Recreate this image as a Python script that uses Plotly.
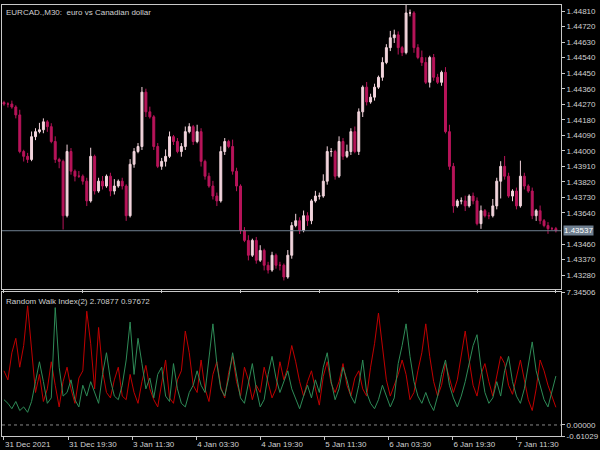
import plotly.graph_objects as go
from plotly.subplots import make_subplots

# closes of EURCAD M30 (sampled), first open
first_open = 1.44280
closes = [1.44271,1.44271,1.44254,1.44208,1.43996,1.43968,1.43950,1.44082,1.44111,1.44122,1.44168,1.44140,1.44054,1.43950,1.43939,1.43624,1.43996,1.43882,1.43853,1.43853,1.43824,1.43710,1.43968,1.43767,1.43824,1.43796,1.43853,1.43767,1.43796,1.43824,1.43796,1.43624,1.43922,1.43996,1.44025,1.44340,1.44226,1.44197,1.44025,1.43910,1.43939,1.43968,1.44082,1.44054,1.43996,1.44025,1.44111,1.44140,1.44054,1.44111,1.43939,1.43853,1.43796,1.43738,1.43710,1.43996,1.44054,1.44025,1.43882,1.43796,1.43538,1.43481,1.43395,1.43481,1.43366,1.43423,1.43337,1.43309,1.43395,1.43337,1.43337,1.43269,1.43395,1.43567,1.43595,1.43538,1.43624,1.43595,1.43710,1.43738,1.43738,1.43824,1.43996,1.43996,1.43853,1.44054,1.43968,1.43996,1.44111,1.43996,1.44226,1.44369,1.44283,1.44311,1.44369,1.44426,1.44512,1.44598,1.44655,1.44672,1.44598,1.44569,1.44799,1.44799,1.44598,1.44541,1.44512,1.44397,1.44541,1.44426,1.44397,1.44455,1.44111,1.43910,1.43681,1.43710,1.43710,1.43681,1.43738,1.43710,1.43578,1.43653,1.43624,1.43624,1.43681,1.43824,1.43910,1.43853,1.43738,1.43767,1.43681,1.43853,1.43796,1.43767,1.43624,1.43653,1.43595,1.43567,1.43549,1.43549,1.43537]
# extra wick length above / below body, in pips
wick_up = [1,1,2,1,3,1,2,3,2,4,2,1,2,3,1,1,4,2,1,3,1,2,5,1,2,3,1,2,4,1,2,1,3,2,2,3,2,3,1,2,2,4,3,1,2,2,3,2,1,4,2,1,2,3,2,3,2,1,4,2,1,2,3,1,2,3,1,2,2,1,2,1,3,2,4,2,3,2,1,3,2,4,3,2,1,3,2,4,2,3,2,1,3,2,2,1,3,2,4,3,2,1,6,2,1,2,4,3,1,2,2,1,3,4,2,1,2,3,1,2,2,3,1,2,4,2,3,6,2,1,2,9,2,1,2,1,3,1,2,1,1]
wick_dn = [1,2,1,2,1,3,2,1,2,1,2,3,1,2,4,8,1,2,3,1,2,3,1,2,1,2,1,3,2,1,2,3,1,2,1,2,3,1,2,1,2,3,1,2,1,3,2,1,2,1,3,2,1,2,3,1,2,1,2,3,2,1,3,1,2,1,3,2,1,2,3,2,1,2,1,2,1,3,2,1,2,1,2,3,2,1,2,1,2,1,2,3,2,1,2,1,2,1,2,3,4,2,1,2,3,1,2,1,3,2,1,2,1,2,4,1,2,3,1,2,1,3,1,2,1,2,10,2,1,3,2,1,2,1,2,3,2,1,3,1,1]

rwi_up = [3.0,2.5,4.0,4.8,3.2,4.4,6.6,4.0,1.8,2.8,1.3,2.0,3.5,2.2,1.0,2.4,3.2,2.0,1.2,2.6,3.0,6.3,4.5,2.0,5.4,3.0,1.8,1.5,2.5,3.2,1.6,1.4,2.8,1.8,1.2,2.4,3.3,2.0,1.4,1.0,2.2,3.6,1.5,1.2,2.5,3.0,5.2,4.0,2.2,1.8,3.6,2.0,1.3,2.8,3.5,2.1,1.5,2.9,3.8,2.4,1.6,3.2,2.5,1.4,2.2,1.8,3.2,2.4,1.5,2.0,3.5,2.5,3.2,4.4,3.5,2.4,1.6,2.4,3.0,2.0,1.1,2.7,3.5,2.3,1.8,2.4,3.4,2.2,1.6,2.6,3.0,2.0,1.6,3.2,4.5,6.2,4.2,2.5,1.6,2.2,2.8,3.6,2.8,1.4,1.8,3.0,4.0,5.6,3.8,2.4,1.6,2.2,3.4,2.6,1.8,2.5,3.8,5.2,3.6,2.2,1.6,2.8,3.4,2.4,1.6,2.8,3.8,3.4,2.2,1.7,2.6,3.6,2.5,1.4,0.8,2.0,3.6,3.0,2.2,1.6,0.98]
rwi_dn = [1.4,1.2,0.9,1.3,0.8,1.0,0.7,1.3,2.4,3.5,2.4,1.2,1.5,6.5,3.2,1.6,1.8,2.5,1.4,1.0,2.2,1.6,2.4,1.8,1.2,2.8,4.0,2.5,1.6,1.4,2.2,3.6,5.7,2.8,4.8,3.4,2.0,2.6,1.5,2.8,3.2,1.6,1.3,3.4,2.0,1.2,1.0,1.8,2.2,3.0,2.2,1.8,3.8,5.6,3.4,2.0,1.6,2.6,4.0,2.8,1.5,1.2,2.4,3.4,2.0,1.0,1.4,2.8,3.8,2.6,1.8,2.4,3.0,2.0,1.4,0.9,1.6,2.2,1.5,2.5,1.8,3.2,4.0,2.4,1.4,2.0,3.2,2.5,1.6,1.2,2.2,3.6,1.8,1.2,0.9,1.4,2.2,1.6,1.0,1.5,3.4,4.4,5.6,3.8,2.4,1.6,1.2,1.8,1.2,0.8,1.6,2.8,3.6,2.2,1.5,1.0,1.6,2.4,3.4,4.4,5.0,3.2,1.8,1.2,1.5,2.4,1.6,3.0,3.8,2.4,1.6,1.2,2.0,3.4,4.6,3.0,2.2,1.4,1.0,1.8,2.71]

time_labels = ["31 Dec 2021", "31 Dec 19:30", "3 Jan 11:30", "4 Jan 03:30", "4 Jan 19:30",
               "5 Jan 11:30", "6 Jan 03:30", "6 Jan 19:30", "7 Jan 11:30"]
# price scale, 1.43550 hidden behind the last-price label
price_ticks = [1.43280, 1.43370, 1.43460, 1.43640, 1.43730, 1.43820, 1.43910, 1.44000,
               1.44090, 1.44180, 1.44270, 1.44360, 1.44450, 1.44540, 1.44630, 1.44720, 1.44810]
last_price = 1.43537

n = len(closes)
opens = [first_open] + closes[:-1]
highs = [max(o, c) + w * 0.0001 for o, c, w in zip(opens, closes, wick_up)]
lows = [min(o, c) - w * 0.0001 for o, c, w in zip(opens, closes, wick_dn)]
xs = list(range(n))

fig = make_subplots(rows=2, cols=1, shared_xaxes=True, vertical_spacing=0.008,
                    row_heights=[0.664, 0.336])
fig.add_trace(go.Candlestick(
    x=xs, open=opens, high=highs, low=lows, close=closes,
    increasing=dict(line=dict(color="#f2d4dc", width=1), fillcolor="#f2d4dc"),
    decreasing=dict(line=dict(color="#b8145a", width=1), fillcolor="#b8145a"),
    whiskerwidth=0, showlegend=False, hoverinfo="skip"), row=1, col=1)
fig.add_trace(go.Scatter(x=list(range(len(rwi_up))), y=rwi_up, mode="lines",
                         line=dict(color="#c00000", width=1), showlegend=False), row=2, col=1)
fig.add_trace(go.Scatter(x=list(range(len(rwi_dn))), y=rwi_dn, mode="lines",
                         line=dict(color="#2e8b57", width=1), showlegend=False), row=2, col=1)

fig.add_hline(y=last_price, line=dict(color="#6f7f90", width=1), row=1, col=1)
fig.add_hline(y=0, line=dict(color="#888888", width=1, dash="dot"), row=2, col=1)

axfont = dict(family="Liberation Sans", size=8, color="#d0d0d0")
xr = [-0.5, n + 0.3]
fig.update_xaxes(range=xr, showgrid=False, zeroline=False, rangeslider_visible=False,
                 showline=True, linecolor="#c8c8c8", mirror=True,
                 ticks="outside", ticklen=3, tickcolor="#c8c8c8", tickfont=axfont)
fig.update_xaxes(tickvals=[i * 16.25 for i in range(len(time_labels))],
                 ticktext=time_labels, ticklabelposition="outside right", row=2, col=1)
fig.update_yaxes(side="right", showgrid=False, zeroline=False, showline=True,
                 linecolor="#c8c8c8", mirror=True, ticks="outside", ticklen=3,
                 tickcolor="#c8c8c8", tickfont=axfont)
fig.update_yaxes(range=[1.43200, 1.44845], tickvals=price_ticks,
                 ticktext=["%.5f" % t for t in price_ticks], row=1, col=1)
fig.update_yaxes(range=[-0.61029, 7.34506], tickvals=[7.34506, 0.0, -0.61029],
                 ticktext=["7.34506", "0.00000", "-0.61029"], row=2, col=1)

fig.add_annotation(xref="paper", yref="y", x=1.0, y=last_price, text="1.43537",
                   showarrow=False, xanchor="left", xshift=2, bgcolor="#6f7f90",
                   font=dict(family="Liberation Sans", size=8, color="#ffffff"), borderpad=0)
fig.add_annotation(xref="paper", yref="paper", x=0.003, y=0.998, text="EURCAD.,M30:  euro vs Canadian dollar",
                   showarrow=False, xanchor="left", yanchor="top", font=axfont)
fig.add_annotation(xref="paper", yref="paper", x=0.003, y=0.327, text="Random Walk Index(2) 2.70877 0.97672",
                   showarrow=False, xanchor="left", yanchor="top", font=axfont)

fig.update_layout(width=600, height=450, paper_bgcolor="#000000", plot_bgcolor="#000000",
                  margin=dict(l=1, r=35, t=2, b=14))
fig.write_html("out.html", config={"displayModeBar": False},
               post_script="document.body.style.margin='0';document.body.style.background='#000';")
